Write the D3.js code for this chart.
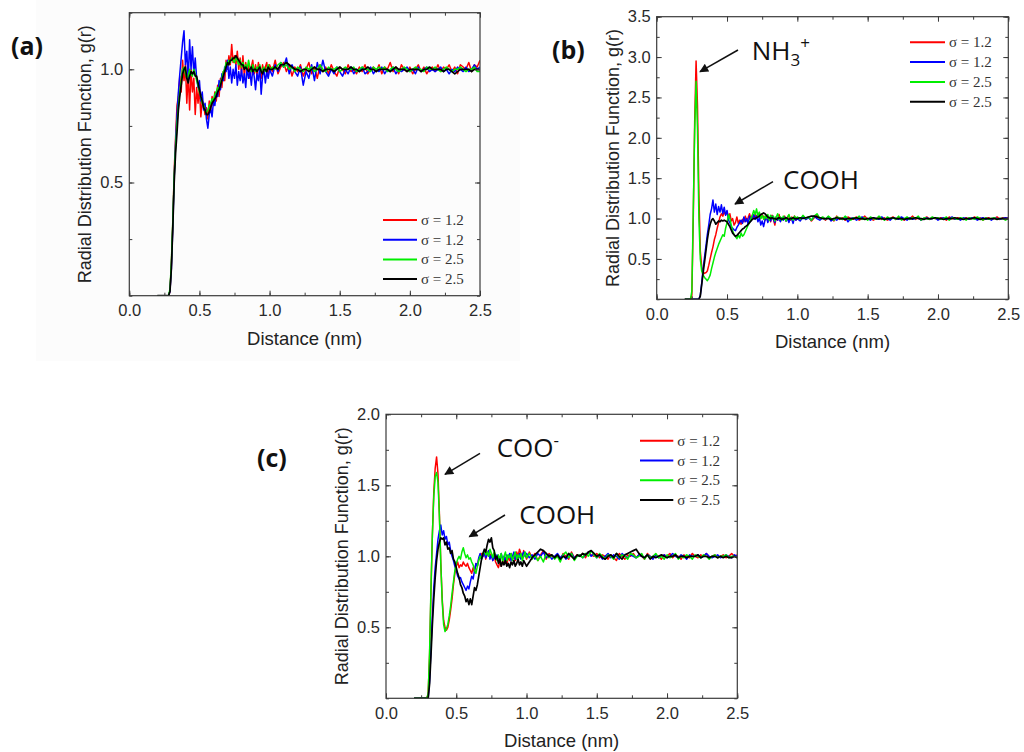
<!DOCTYPE html>
<html><head><meta charset="utf-8">
<script src="https://cdn.jsdelivr.net/npm/d3@7"></script>
<style>body{margin:0;background:#fff} svg{display:block}</style>
</head><body>
<svg id="chart" width="1024" height="752"></svg>
<script>
// sampling grid of the distance axis (nm): 0.20..0.99 step 0.01, then 1.00..2.50 step 0.02
const distanceFine = d3.range(20, 100).map(i => i / 100);
const distanceCoarse = d3.range(50, 126).map(i => i / 50);
const distance = distanceFine.concat(distanceCoarse);

const legendLabels = ["σ = 1.2", "σ = 1.2", "σ = 2.5", "σ = 2.5"];
const seriesColors = ["#ff0000", "#0000ff", "#00ee00", "#000000"];
const xTickValues = [0, 0.5, 1.0, 1.5, 2.0, 2.5];
const aYTickValues = [0.5, 1.0];
const bYTickValues = [0.5, 1.0, 1.5, 2.0, 2.5, 3.0, 3.5];
const cYTickValues = [0.5, 1.0, 1.5, 2.0];

// ---------- panel (a) ----------
const aRed = [0,0,0,0,0,0,0,0,0,0.02,
0.14,0.32,0.55,0.70,0.84,0.88,0.97,0.90,1.04,0.95,
1.02,0.85,0.98,0.82,1.00,0.90,0.96,0.80,0.92,0.85,
0.92,0.79,0.86,0.84,0.80,0.83,0.78,0.86,0.82,0.88,
0.84,0.90,0.86,0.93,0.88,0.96,0.92,0.99,0.95,1.04,
1.00,1.06,1.02,1.11,1.03,1.06,1.02,1.08,1.00,1.05,
0.98,1.06,0.97,1.03,0.99,1.02,0.96,1.01,1.04,0.98,
1.02,0.97,1.03,1.00,0.96,1.02,0.98,1.01,1.03,0.97,
1.02,0.99,1.04,0.98,1.01,1.03,0.99,1.02,0.97,1.01,
0.99,1.02,0.97,1.00,1.03,0.98,1.01,0.96,1.02,0.99,
1.01,0.98,1.02,0.99,0.97,1.01,1.00,0.98,1.02,0.99,
1.00,0.98,1.01,0.99,1.02,0.98,1.00,1.01,0.99,1.02,
0.98,1.01,1.00,1.03,0.99,1.01,0.98,1.02,1.00,0.99,
1.01,0.98,1.00,1.02,0.99,1.01,0.98,1.00,1.01,0.99,
1.02,0.99,1.01,1.00,1.02,0.99,1.01,0.98,1.02,1.01,
1.00,1.03,0.99,1.02,1.01,1.04];
const aBlue = [0,0,0,0,0,0,0,0,0,0.02,
0.12,0.30,0.52,0.68,0.80,0.90,0.98,1.05,1.12,1.17,
1.02,1.08,0.95,1.13,1.00,1.10,0.98,1.05,0.96,0.92,
0.95,0.86,0.90,0.82,0.85,0.78,0.74,0.80,0.83,0.79,
0.86,0.84,0.90,0.88,0.95,0.91,0.98,0.95,1.01,0.99,
1.04,0.96,1.01,0.94,1.00,0.96,1.02,0.93,0.99,0.95,
1.00,0.94,0.98,0.92,1.01,0.96,0.99,0.93,1.00,0.97,
0.91,0.98,0.95,1.01,0.89,0.97,1.00,0.94,0.99,0.96,
1.00,0.97,1.02,0.99,1.03,1.01,1.05,0.98,1.02,0.99,
0.97,1.01,0.93,0.99,0.96,1.02,0.95,1.03,0.98,1.04,
0.99,0.97,1.00,0.98,1.01,0.99,0.97,1.00,0.98,1.01,
0.98,1.00,0.99,1.01,0.98,0.99,1.01,0.98,1.00,0.99,
1.01,0.98,1.00,0.99,1.01,0.98,1.00,0.99,1.00,1.01,
0.99,1.00,0.98,1.01,0.99,1.00,1.01,0.99,1.00,0.99,
1.00,1.01,0.99,1.00,0.98,1.00,0.99,1.01,1.00,0.99,
1.01,0.99,1.00,1.02,1.00,1.01];
const aGreen = [0,0,0,0,0,0,0,0,0,0.03,
0.15,0.33,0.53,0.66,0.76,0.84,0.90,0.95,1.00,1.01,
0.98,0.96,0.97,1.00,0.98,0.97,1.00,0.98,0.95,0.93,
0.90,0.88,0.85,0.84,0.82,0.81,0.82,0.84,0.85,0.87,
0.86,0.89,0.90,0.92,0.91,0.94,0.96,0.99,1.00,1.03,
1.02,1.04,1.03,1.05,1.04,1.03,1.05,1.04,1.02,1.04,
1.01,1.03,1.00,1.02,1.00,1.04,1.01,0.99,1.02,1.00,
0.99,1.01,1.00,1.02,0.99,1.00,1.01,0.99,1.00,1.02,
1.00,1.01,1.00,1.02,1.03,1.01,1.02,1.00,1.01,0.99,
1.01,1.00,0.99,1.01,1.00,1.01,0.99,1.00,1.02,1.00,
0.99,1.01,1.00,1.00,1.01,0.99,1.00,1.01,1.00,1.00,
1.01,0.99,1.00,1.01,1.00,1.00,0.99,1.01,1.00,1.01,
1.00,1.01,0.99,1.00,1.01,1.00,0.99,1.00,1.01,1.00,
0.99,1.00,1.01,1.00,1.00,0.99,1.01,1.00,1.00,1.01,
1.00,0.99,1.00,1.01,1.00,0.99,1.00,1.00,1.01,1.00,
0.99,1.00,1.00,1.01,0.99,0.99];
const aBlack = [0,0,0,0,0,0,0,0,0,0.02,
0.12,0.30,0.50,0.63,0.72,0.82,0.88,0.93,0.98,1.00,
1.01,0.96,0.94,0.97,0.99,0.98,0.99,0.97,0.97,0.94,
0.91,0.88,0.86,0.83,0.82,0.80,0.80,0.81,0.83,0.85,
0.86,0.87,0.88,0.90,0.91,0.93,0.95,0.97,0.99,1.01,
1.03,1.02,1.04,1.04,1.05,1.05,1.06,1.05,1.04,1.03,
1.02,1.02,1.00,1.01,1.00,0.99,1.00,1.01,0.99,1.00,
1.00,0.99,1.00,1.01,0.99,0.98,1.00,1.00,0.99,1.01,
1.00,1.00,1.01,1.00,1.02,1.02,1.03,1.02,1.01,1.00,
1.00,0.99,1.00,1.00,0.99,1.00,1.01,1.00,1.00,0.99,
1.00,1.00,1.00,0.99,1.00,1.01,1.00,1.00,1.00,1.01,
1.00,1.00,0.99,1.00,1.00,1.01,1.00,1.00,0.99,1.00,
1.00,1.00,1.00,0.99,1.00,1.01,1.00,1.00,1.00,0.99,
1.00,1.00,1.00,1.00,0.99,1.00,1.00,1.01,1.00,1.00,
1.00,1.00,0.99,1.00,1.00,0.99,0.98,0.99,1.00,1.00,
1.00,1.00,0.99,1.00,1.00,1.00];

// ---------- panel (b) ----------
const bRed = [0,0,0,0,0,0.05,1.00,2.20,2.95,2.40,
1.30,0.60,0.40,0.34,0.32,0.33,0.35,0.42,0.50,0.58,
0.65,0.74,0.80,0.88,0.95,1.02,1.06,1.03,1.08,1.05,
1.09,1.02,1.06,0.97,1.00,0.92,0.95,1.02,0.94,0.98,
0.93,0.99,0.96,1.03,0.97,1.01,1.06,0.99,1.04,1.00,
1.05,1.01,1.07,1.03,1.00,1.05,1.02,0.98,1.03,0.97,
1.01,0.96,1.04,0.99,0.92,1.02,0.98,1.05,0.97,1.01,
0.99,1.03,0.97,1.01,1.04,0.98,1.02,0.99,1.03,0.98,
1.01,0.98,1.03,0.99,1.02,0.97,1.01,1.04,0.99,1.01,
0.98,1.02,1.00,0.97,1.03,0.99,1.01,0.98,1.02,1.00,
0.99,1.02,0.98,1.00,1.03,0.99,1.01,0.98,1.00,1.02,
0.99,1.01,0.98,1.00,1.02,0.99,1.01,1.00,0.98,1.01,
1.00,1.03,0.99,1.01,0.98,1.00,1.02,0.99,1.01,1.00,
0.99,1.01,1.00,0.98,1.02,1.00,0.99,1.01,1.00,0.99,
1.01,0.99,1.00,1.02,0.99,1.01,0.98,1.00,1.01,0.99,
1.00,1.02,0.99,1.01,1.00,1.01];
const bBlue = [0,0,0,0,0,0,0,0,0,0,
0.00,0.05,0.20,0.38,0.52,0.66,0.80,0.92,1.05,1.12,
1.23,1.08,1.18,1.05,1.15,1.08,1.17,1.06,1.14,1.04,
1.10,0.98,0.95,0.90,0.88,0.86,0.85,0.89,0.92,0.95,
0.98,0.94,1.02,0.96,1.00,0.93,1.03,0.97,1.01,1.05,
0.99,1.03,0.96,1.01,0.92,0.97,0.90,0.98,1.02,0.95,
1.01,0.97,1.03,0.99,0.95,1.02,0.98,1.00,0.96,1.01,
0.98,1.02,0.97,1.00,0.95,1.01,0.99,0.94,1.02,0.98,
1.00,0.97,1.02,0.99,1.01,0.98,1.03,1.00,0.98,1.01,
0.99,1.02,0.97,1.00,0.98,1.01,0.99,1.02,0.96,1.00,
1.01,0.98,1.00,1.02,0.99,1.00,0.98,1.01,1.00,0.99,
1.02,0.99,1.00,0.98,1.01,1.00,0.99,1.02,1.00,0.98,
1.01,0.99,1.00,1.02,0.98,1.00,1.01,0.99,1.00,1.01,
0.98,1.00,1.01,0.99,1.00,1.02,0.99,1.00,0.98,1.01,
1.00,0.99,1.01,1.00,0.98,1.00,1.01,0.99,1.00,0.98,
1.01,1.00,0.99,1.00,1.01,1.00];
const bGreen = [0,0,0,0,0,0.10,1.10,2.10,2.70,2.10,
1.00,0.50,0.35,0.30,0.27,0.25,0.23,0.26,0.30,0.38,
0.45,0.52,0.58,0.63,0.68,0.72,0.76,0.80,0.78,0.88,
0.95,1.05,1.00,0.92,0.85,0.80,0.78,0.75,0.80,0.76,
0.82,0.78,0.80,0.84,0.88,0.92,0.95,1.00,1.04,1.10,
1.05,1.12,1.02,1.08,1.00,1.04,0.99,1.03,1.00,1.05,
0.98,1.04,1.00,1.03,0.97,1.02,1.06,0.99,1.02,0.98,
1.03,1.00,0.97,1.02,1.05,0.99,1.01,0.98,1.03,1.00,
1.02,0.99,1.04,1.00,1.02,0.98,1.03,1.06,1.00,1.02,
0.99,1.03,1.00,0.98,1.02,1.01,0.99,1.03,1.00,0.98,
1.01,1.00,1.03,0.99,1.01,0.98,1.02,1.00,0.99,1.03,
1.00,0.98,1.02,1.00,1.01,0.99,1.03,0.98,1.00,1.02,
0.99,1.01,1.00,1.03,0.98,1.01,1.00,0.99,1.02,1.00,
1.01,0.99,1.00,1.02,0.98,1.01,1.00,0.99,1.01,1.00,
0.98,1.01,1.00,0.99,1.02,1.00,0.98,1.01,0.99,1.00,
1.01,0.99,1.00,1.00,0.98,1.00];
const bBlack = [0,0,0,0,0,0,0,0,0,0,
0.00,0.04,0.18,0.33,0.46,0.60,0.74,0.85,0.93,0.98,
1.00,0.97,0.93,0.95,0.97,0.96,0.98,0.97,0.98,0.97,
0.96,0.93,0.90,0.86,0.82,0.80,0.78,0.79,0.81,0.83,
0.85,0.87,0.88,0.90,0.91,0.93,0.95,0.97,0.99,1.00,
1.00,1.01,1.02,1.03,1.05,1.06,1.07,1.06,1.04,1.02,
1.01,1.00,1.01,1.00,1.00,0.99,1.00,1.01,1.00,0.99,
1.00,1.00,1.01,1.00,0.99,1.00,1.00,1.01,1.00,1.00,
1.00,1.01,1.00,1.01,1.02,1.03,1.03,1.02,1.01,1.00,
1.00,1.00,0.99,1.00,1.01,1.00,1.00,0.99,1.00,1.00,
1.00,1.01,1.00,1.00,0.99,1.00,1.00,1.01,1.00,1.00,
1.00,0.99,1.00,1.00,1.01,1.00,1.00,1.00,0.99,1.00,
1.00,1.00,1.01,1.00,1.00,0.99,1.00,1.00,1.00,1.01,
1.00,1.00,0.99,1.00,1.00,1.00,1.01,1.00,1.00,0.99,
1.00,1.00,1.00,1.01,1.00,0.99,1.00,1.00,1.00,1.00,
1.00,0.99,1.00,1.00,1.00,1.00];

// ---------- panel (c) ----------
const cRed = [0,0,0,0,0,0,0,0,0,0,
0.03,0.30,0.75,1.15,1.45,1.62,1.70,1.58,1.30,0.95,
0.70,0.55,0.50,0.48,0.50,0.55,0.62,0.70,0.80,0.88,
0.93,0.96,0.92,0.94,0.93,0.96,0.94,0.93,0.95,0.92,
0.90,0.88,0.92,0.89,0.95,0.93,0.98,0.99,1.02,1.00,
1.03,0.98,1.02,1.04,1.00,1.02,0.97,1.01,0.96,0.94,
0.92,0.96,0.93,0.97,0.95,0.99,0.94,1.00,0.97,1.02,
0.98,1.01,0.97,1.03,1.00,1.05,1.02,0.99,1.04,1.01,
0.98,1.03,0.99,1.02,0.97,1.01,1.04,0.98,1.02,1.00,
0.99,1.01,0.97,1.02,1.00,0.98,1.03,0.99,1.01,1.00,
1.02,0.99,1.03,1.01,1.00,1.02,0.99,1.01,1.00,0.98,
1.01,0.99,0.97,1.02,1.00,0.98,1.01,1.00,1.02,0.99,
1.01,1.00,0.98,1.02,1.00,0.99,1.01,1.00,0.98,1.01,
1.00,1.02,0.99,1.01,1.00,0.98,1.01,1.00,0.99,1.02,
1.00,0.99,1.01,1.00,1.02,0.99,1.00,1.01,0.99,1.00,
1.01,0.99,1.00,1.02,1.00,1.01];
const cBlue = [0,0,0,0,0,0,0,0,0,0,
0.00,0.12,0.35,0.58,0.78,0.92,1.02,1.12,1.18,1.22,
1.15,1.18,1.12,1.14,1.08,1.10,1.04,1.00,0.97,0.93,
0.90,0.86,0.84,0.85,0.82,0.80,0.78,0.76,0.79,0.77,
0.82,0.86,0.84,0.90,0.95,0.93,0.99,1.02,0.98,1.00,
1.02,0.99,1.01,1.04,0.98,1.01,0.97,1.00,0.98,1.01,
0.99,0.97,1.02,0.98,1.00,0.96,1.01,0.99,1.02,0.97,
1.00,1.03,0.98,1.01,0.99,1.02,0.98,1.01,1.03,1.00,
1.02,0.99,1.01,0.98,1.02,1.00,1.03,0.99,1.01,0.98,
1.00,1.02,0.99,1.01,0.98,1.00,1.02,0.99,1.00,1.01,
0.99,1.01,1.03,1.00,1.02,0.99,1.01,0.98,1.00,1.02,
0.99,1.01,1.00,0.98,1.02,1.00,0.99,1.01,1.00,0.99,
1.01,1.00,0.99,1.01,1.00,0.98,1.01,0.99,1.00,1.01,
0.99,1.00,1.02,1.00,0.99,1.01,1.00,0.98,1.01,1.00,
1.00,1.01,0.99,1.00,1.02,1.00,0.99,1.00,1.01,0.99,
1.00,1.01,1.00,0.99,1.01,1.00];
const cGreen = [0,0,0,0,0,0,0,0,0,0,
0.03,0.32,0.78,1.15,1.42,1.56,1.59,1.52,1.28,0.95,
0.68,0.52,0.47,0.49,0.52,0.58,0.65,0.74,0.82,0.90,
0.95,0.98,1.00,0.98,1.03,1.06,1.02,0.99,1.01,0.98,
0.99,0.96,0.94,0.90,0.88,0.93,0.97,1.00,0.98,1.02,
1.04,1.01,1.03,1.00,1.05,1.02,0.99,1.03,1.00,0.97,
1.01,0.98,1.02,0.96,1.00,1.03,0.97,1.01,0.99,1.02,
0.97,1.00,1.03,0.98,1.01,0.99,1.02,0.97,1.00,1.03,
0.99,1.02,0.98,1.01,0.97,1.00,0.96,1.02,0.99,1.01,
0.98,1.00,0.96,1.01,1.03,0.99,1.02,0.97,1.00,1.01,
0.99,1.02,1.00,1.04,1.01,0.99,1.02,1.00,0.98,1.01,
1.00,0.98,1.02,0.99,1.01,1.00,0.98,1.02,1.01,0.99,
1.00,1.02,0.98,1.01,0.99,1.00,1.02,0.99,1.00,0.98,
1.01,0.99,1.00,1.02,0.98,1.00,0.99,1.01,1.00,0.98,
1.01,1.00,0.99,1.01,1.00,0.98,1.00,1.01,0.99,1.00,
1.00,1.01,0.99,1.00,1.00,0.99];
const cBlack = [0,0,0,0,0,0,0,0,0,0,
0.00,0.10,0.30,0.52,0.70,0.85,0.97,1.05,1.10,1.13,
1.12,1.13,1.08,1.10,1.05,1.06,1.02,1.04,0.98,0.96,
0.92,0.88,0.85,0.80,0.78,0.74,0.72,0.68,0.70,0.66,
0.70,0.66,0.72,0.78,0.76,0.80,0.86,0.92,0.98,1.02,
1.05,1.03,1.08,1.12,1.10,1.13,1.06,1.04,0.98,1.00,
0.95,0.98,0.93,0.96,0.94,0.97,0.93,0.95,0.92,0.96,
0.94,0.97,0.93,0.95,0.98,0.94,0.96,0.93,0.97,0.95,
0.93,0.96,0.99,1.01,1.03,1.05,1.04,1.02,1.00,1.01,
0.99,1.01,0.98,1.00,0.99,1.02,1.00,0.98,1.01,1.00,
1.02,1.01,1.03,1.04,1.02,1.00,1.01,0.99,0.98,1.00,
1.01,0.99,1.02,1.00,0.98,1.01,1.02,1.03,1.04,1.05,
1.02,1.00,0.99,1.01,0.98,1.00,0.99,1.00,1.01,1.00,
0.99,1.00,1.00,1.01,0.99,1.00,1.00,0.99,1.00,1.00,
1.00,1.01,0.99,1.00,1.00,0.99,1.00,1.00,0.99,1.00,
0.99,1.00,0.99,0.99,1.00,0.99];

const panels = [
  { tag: "(a)", tagPos: [11, 55], box: [129.3, 480, 12.7, 295.7], yMax: 1.25, yTicks: aYTickValues,
    series: [aRed, aBlue, aGreen, aBlack], legend: [383, 417, 220, 19.7],
    notes: [] , bg: [36, 0, 484, 361] },
  { tag: "(b)", tagPos: [552, 59], box: [656.7, 1008.3, 16.7, 299.3], yMax: 3.5, yTicks: bYTickValues,
    series: [bRed, bBlue, bGreen, bBlack], legend: [910, 945, 42.3, 19.8],
    notes: [
      { parts: [["NH", 0], ["3", 1], ["+", -1]], x: 751.7, y: 59.5, arrow: [738, 50, 700, 71.7] },
      { parts: [["COOH", 0]], x: 783, y: 189, arrow: [773, 181.7, 735, 204] }
    ] },
  { tag: "(c)", tagPos: [257, 467], box: [386, 737.3, 414.3, 698.3], yMax: 2.0, yTicks: cYTickValues,
    series: [cRed, cBlue, cGreen, cBlack], legend: [640, 673.3, 440.7, 19.8],
    notes: [
      { parts: [["COO", 0], ["-", -1]], x: 496.7, y: 457.3, arrow: [480, 453.3, 445, 474.3] },
      { parts: [["COOH", 0]], x: 519.3, y: 524, arrow: [505, 515, 469.3, 536.7] }
    ] }
];

const svg = d3.select("#chart");
const defs = svg.append("defs");
defs.append("marker").attr("id", "arrowHead").attr("viewBox", "0 0 10 10")
  .attr("refX", 9).attr("refY", 5).attr("markerWidth", 11).attr("markerHeight", 9)
  .attr("markerUnits", "userSpaceOnUse").attr("orient", "auto")
  .append("path").attr("d", "M0,0 L10,5 L0,10 Z").attr("fill", "#111");

const tickFont = "'Liberation Sans', Arial, sans-serif";

panels.forEach((p, pi) => {
  const [L, R, T, B] = p.box;
  if (p.bg) svg.append("rect").attr("x", p.bg[0]).attr("y", p.bg[1]).attr("width", p.bg[2])
    .attr("height", p.bg[3]).attr("fill", "#fcfcfc");
  const x = d3.scaleLinear().domain([0, 2.5]).range([L, R]);
  const y = d3.scaleLinear().domain([0, p.yMax]).range([B, T]);
  const g = svg.append("g");

  const clipId = "clip" + pi;
  defs.append("clipPath").attr("id", clipId).append("rect")
    .attr("x", L).attr("y", T).attr("width", R - L).attr("height", B - T);

  const line = d3.line().x(d => x(d[0])).y(d => y(d[1]));
  const curves = g.append("g").attr("clip-path", `url(#${clipId})`);
  p.series.forEach((vals, si) => {
    const n = Math.min(vals.length, distance.length);
    const pts = d3.range(n).map(i => [distance[i], vals[i]]);
    curves.append("path").datum(pts).attr("d", line).attr("fill", "none")
      .attr("stroke", seriesColors[si]).attr("stroke-width", si === 3 ? 1.7 : 1.5)
      .attr("stroke-linejoin", "round");
  });

  // frame
  g.append("rect").attr("x", L).attr("y", T).attr("width", R - L).attr("height", B - T)
    .attr("fill", "none").attr("stroke", "#3a3a3a").attr("stroke-width", 1.2);

  const minorX = d3.range(0, 11).map(i => i * 0.25);
  const minorY = d3.range(0, Math.round(p.yMax / 0.25) + 1).map(i => i * 0.25);
  const styleAxis = sel => { sel.select(".domain").remove(); sel.selectAll("line").attr("stroke", "#3a3a3a"); };

  g.append("g").attr("transform", `translate(0,${B})`)
    .call(d3.axisBottom(x).tickValues(minorX).tickFormat("").tickSize(-3)).call(styleAxis);
  g.append("g").attr("transform", `translate(0,${T})`)
    .call(d3.axisTop(x).tickValues(minorX).tickFormat("").tickSize(-3)).call(styleAxis);
  g.append("g").attr("transform", `translate(${L},0)`)
    .call(d3.axisLeft(y).tickValues(minorY).tickFormat("").tickSize(-3)).call(styleAxis);
  g.append("g").attr("transform", `translate(${R},0)`)
    .call(d3.axisRight(y).tickValues(minorY).tickFormat("").tickSize(-3)).call(styleAxis);

  const xb = g.append("g").attr("transform", `translate(0,${B})`)
    .call(d3.axisBottom(x).tickValues(xTickValues).tickFormat(d3.format(".1f")).tickSize(-5).tickPadding(9))
    .call(styleAxis);
  g.append("g").attr("transform", `translate(0,${T})`)
    .call(d3.axisTop(x).tickValues(xTickValues).tickFormat("").tickSize(-5)).call(styleAxis);
  const yl = g.append("g").attr("transform", `translate(${L},0)`)
    .call(d3.axisLeft(y).tickValues(p.yTicks).tickFormat(d3.format(".1f")).tickSize(-5).tickPadding(6))
    .call(styleAxis);
  g.append("g").attr("transform", `translate(${R},0)`)
    .call(d3.axisRight(y).tickValues(p.yTicks).tickFormat("").tickSize(-5)).call(styleAxis);
  [xb, yl].forEach(a => a.selectAll("text").attr("font-family", tickFont).attr("font-size", 16.5).attr("fill", "#2a2a2a"));

  // axis titles
  g.append("text").attr("x", (L + R) / 2).attr("y", B + 49).attr("text-anchor", "middle")
    .attr("font-family", tickFont).attr("font-size", 18.5).attr("fill", "#222").text("Distance (nm)");
  g.append("text").attr("transform", `translate(${L - 38},${(T + B) / 2}) rotate(-90)`)
    .attr("text-anchor", "middle").attr("font-family", tickFont).attr("font-size", 18)
    .attr("fill", "#222").text("Radial Distribution Function, g(r)");

  // panel tag
  svg.append("text").attr("x", p.tagPos[0]).attr("y", p.tagPos[1])
    .attr("font-family", "'Open Sans', sans-serif").attr("font-weight", "bold").attr("font-size", 25)
    .attr("fill", "#111").text(p.tag);

  // legend
  const [lx0, lx1, ly0, ldy] = p.legend;
  legendLabels.forEach((lab, i) => {
    const yy = ly0 + i * ldy;
    g.append("line").attr("x1", lx0).attr("x2", lx1).attr("y1", yy).attr("y2", yy)
      .attr("stroke", seriesColors[i]).attr("stroke-width", 2);
    g.append("text").attr("x", lx1 + 4).attr("y", yy + 5)
      .attr("font-family", "'Liberation Serif', 'Times New Roman', serif").attr("font-size", 15)
      .attr("fill", "#333").text(lab);
  });

  // annotations
  p.notes.forEach(n => {
    const t = svg.append("text").attr("x", n.x).attr("y", n.y)
      .attr("font-family", "'Open Sans', sans-serif").attr("font-size", 26).attr("fill", "#111");
    n.parts.forEach(([s, k]) => {
      const ts = t.append("tspan").text(s);
      if (k === 1) ts.attr("font-size", 17).attr("dy", 6);
      if (k === -1) ts.attr("font-size", 17).attr("dy", n.parts.length > 2 ? -17 : -11);
    });
    const [ax1, ay1, ax2, ay2] = n.arrow;
    svg.append("line").attr("x1", ax1).attr("y1", ay1).attr("x2", ax2).attr("y2", ay2)
      .attr("stroke", "#111").attr("stroke-width", 1.5).attr("marker-end", "url(#arrowHead)");
  });
});
</script>
</body></html>
